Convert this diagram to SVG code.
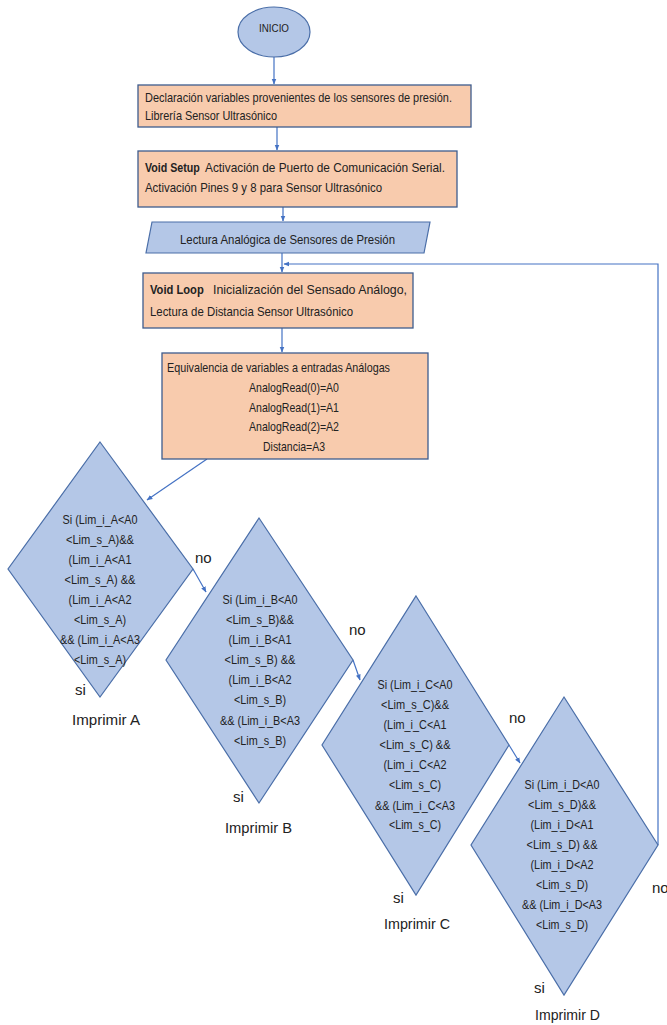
<svg xmlns="http://www.w3.org/2000/svg" width="667" height="1025" viewBox="0 0 667 1025">
<style>
text{font-family:"Liberation Sans",Arial,sans-serif;fill:#222;}
.t{font-size:13px;}
.b{font-weight:bold;}
.d{font-size:12.5px;text-anchor:middle;}
.l{font-size:15px;}
.box{fill:#F8CBAD;stroke:#3E5C8E;stroke-width:1.3;}
.blue{fill:#B4C7E7;stroke:#4A6EA8;stroke-width:1.2;}
.c{fill:none;stroke:#4472C4;stroke-width:1.2;}
</style>
<defs>
<marker id="ah" viewBox="0 0 10 10" refX="9" refY="5" markerWidth="6" markerHeight="6" orient="auto" markerUnits="userSpaceOnUse">
<path d="M0,1 L10,5 L0,9 Z" fill="#4472C4"/>
</marker>
</defs>
<rect width="667" height="1025" fill="#fff"/>

<g id="connectors">
<line class="c" x1="274" y1="57" x2="274" y2="84" marker-end="url(#ah)"/>
<line class="c" x1="277" y1="127" x2="277" y2="150" marker-end="url(#ah)"/>
<line class="c" x1="283" y1="207" x2="283" y2="221" marker-end="url(#ah)"/>
<line class="c" x1="282" y1="253" x2="282" y2="272" marker-end="url(#ah)"/>
<line class="c" x1="282" y1="328" x2="282" y2="352" marker-end="url(#ah)"/>
<line class="c" x1="207" y1="459" x2="147" y2="500" marker-end="url(#ah)"/>
<line class="c" x1="193" y1="569" x2="206" y2="592" marker-end="url(#ah)"/>
<line class="c" x1="353" y1="660" x2="360" y2="680" marker-end="url(#ah)"/>
<line class="c" x1="509" y1="745" x2="520" y2="763" marker-end="url(#ah)"/>
<polyline class="c" points="658,845 658,264 284,264" marker-end="url(#ah)"/>
</g>

<g id="inicio">
<ellipse class="blue" cx="274" cy="32" rx="36" ry="25"/>
<text x="259" y="32" style="font-size:11px" textLength="30" lengthAdjust="spacingAndGlyphs">INICIO</text>
</g>

<g id="declaracion">
<rect class="box" x="138" y="85" width="333" height="42"/>
<text class="t" x="145" y="102" textLength="307" lengthAdjust="spacingAndGlyphs">Declaración variables provenientes de los sensores de presión.</text>
<text class="t" x="145" y="120" textLength="132" lengthAdjust="spacingAndGlyphs">Librería Sensor Ultrasónico</text>
</g>

<g id="setup">
<rect class="box" x="138" y="151" width="319" height="56"/>
<text class="t b" transform="translate(145,172) scale(0.82,1)">Void Setup</text>
<text class="t" x="205" y="172" textLength="240" lengthAdjust="spacingAndGlyphs">Activación de Puerto de Comunicación Serial.</text>
<text class="t" x="145" y="192" textLength="237" lengthAdjust="spacingAndGlyphs">Activación Pines 9 y 8 para Sensor Ultrasónico</text>
</g>

<g id="lectura">
<polygon class="blue" points="152,222 430,222 424,253 146,253"/>
<text class="t" x="180" y="244" textLength="215" lengthAdjust="spacingAndGlyphs">Lectura Analógica de Sensores de Presión</text>
</g>

<g id="loop">
<rect class="box" x="143" y="273" width="270" height="55"/>
<text class="t b" transform="translate(150,294) scale(0.86,1)">Void Loop</text>
<text class="t" x="213" y="294" textLength="194" lengthAdjust="spacingAndGlyphs">Inicialización del Sensado Análogo,</text>
<text class="t" x="150" y="316" textLength="203" lengthAdjust="spacingAndGlyphs">Lectura de Distancia Sensor Ultrasónico</text>
</g>

<g id="equivalencia">
<rect class="box" x="162" y="353" width="266" height="106"/>
<text class="t" x="167" y="372" textLength="223" lengthAdjust="spacingAndGlyphs">Equivalencia de variables a entradas Análogas</text>
<text class="t" x="249" y="392" textLength="90" lengthAdjust="spacingAndGlyphs">AnalogRead(0)=A0</text>
<text class="t" x="249" y="412" textLength="90" lengthAdjust="spacingAndGlyphs">AnalogRead(1)=A1</text>
<text class="t" x="249" y="431" textLength="90" lengthAdjust="spacingAndGlyphs">AnalogRead(2)=A2</text>
<text class="t" x="263" y="451" textLength="62" lengthAdjust="spacingAndGlyphs">Distancia=A3</text>
</g>

<g id="decisionA">
<polygon class="blue" points="100,442 193,569 100,697 8,569"/>
<text class="d" x="100" y="524" textLength="75" lengthAdjust="spacingAndGlyphs">Si (Lim_i_A&lt;A0</text>
<text class="d" x="100" y="544" textLength="68" lengthAdjust="spacingAndGlyphs">&lt;Lim_s_A)&amp;&amp;</text>
<text class="d" x="100" y="564" textLength="63" lengthAdjust="spacingAndGlyphs">(Lim_i_A&lt;A1</text>
<text class="d" x="100" y="584" textLength="71" lengthAdjust="spacingAndGlyphs">&lt;Lim_s_A) &amp;&amp;</text>
<text class="d" x="100" y="604" textLength="63" lengthAdjust="spacingAndGlyphs">(Lim_i_A&lt;A2</text>
<text class="d" x="100" y="624" textLength="52" lengthAdjust="spacingAndGlyphs">&lt;Lim_s_A)</text>
<text class="d" x="100" y="644" textLength="80" lengthAdjust="spacingAndGlyphs">&amp;&amp; (Lim_i_A&lt;A3</text>
<text class="d" x="100" y="664" textLength="52" lengthAdjust="spacingAndGlyphs">&lt;Lim_s_A)</text>
<text class="l" x="75" y="695">si</text>
<text class="l" x="72" y="725" textLength="68" lengthAdjust="spacingAndGlyphs">Imprimir A</text>
<text class="l" x="195" y="563">no</text>
</g>

<g id="decisionB">
<polygon class="blue" points="259,518 353,660 259,803 166,660"/>
<text class="d" x="260" y="604" textLength="75" lengthAdjust="spacingAndGlyphs">Si (Lim_i_B&lt;A0</text>
<text class="d" x="260" y="624" textLength="68" lengthAdjust="spacingAndGlyphs">&lt;Lim_s_B)&amp;&amp;</text>
<text class="d" x="260" y="644" textLength="63" lengthAdjust="spacingAndGlyphs">(Lim_i_B&lt;A1</text>
<text class="d" x="260" y="664" textLength="71" lengthAdjust="spacingAndGlyphs">&lt;Lim_s_B) &amp;&amp;</text>
<text class="d" x="260" y="684" textLength="63" lengthAdjust="spacingAndGlyphs">(Lim_i_B&lt;A2</text>
<text class="d" x="260" y="704" textLength="52" lengthAdjust="spacingAndGlyphs">&lt;Lim_s_B)</text>
<text class="d" x="260" y="725" textLength="80" lengthAdjust="spacingAndGlyphs">&amp;&amp; (Lim_i_B&lt;A3</text>
<text class="d" x="260" y="745" textLength="52" lengthAdjust="spacingAndGlyphs">&lt;Lim_s_B)</text>
<text class="l" x="233" y="802">si</text>
<text class="l" x="225" y="833" textLength="67" lengthAdjust="spacingAndGlyphs">Imprimir B</text>
<text class="l" x="349" y="635">no</text>
</g>

<g id="decisionC">
<polygon class="blue" points="416,596 509,745 416,895 322,745"/>
<text class="d" x="415" y="689" textLength="75" lengthAdjust="spacingAndGlyphs">Si (Lim_i_C&lt;A0</text>
<text class="d" x="415" y="709" textLength="68" lengthAdjust="spacingAndGlyphs">&lt;Lim_s_C)&amp;&amp;</text>
<text class="d" x="415" y="729" textLength="63" lengthAdjust="spacingAndGlyphs">(Lim_i_C&lt;A1</text>
<text class="d" x="415" y="749" textLength="71" lengthAdjust="spacingAndGlyphs">&lt;Lim_s_C) &amp;&amp;</text>
<text class="d" x="415" y="769" textLength="63" lengthAdjust="spacingAndGlyphs">(Lim_i_C&lt;A2</text>
<text class="d" x="415" y="789" textLength="52" lengthAdjust="spacingAndGlyphs">&lt;Lim_s_C)</text>
<text class="d" x="415" y="810" textLength="80" lengthAdjust="spacingAndGlyphs">&amp;&amp; (Lim_i_C&lt;A3</text>
<text class="d" x="415" y="829" textLength="52" lengthAdjust="spacingAndGlyphs">&lt;Lim_s_C)</text>
<text class="l" x="393" y="903">si</text>
<text class="l" x="384" y="929" textLength="66" lengthAdjust="spacingAndGlyphs">Imprimir C</text>
<text class="l" x="509" y="723">no</text>
</g>

<g id="decisionD">
<polygon class="blue" points="564,697 658,845 564,995 471,845"/>
<text class="d" x="562" y="789" textLength="75" lengthAdjust="spacingAndGlyphs">Si (Lim_i_D&lt;A0</text>
<text class="d" x="562" y="809" textLength="68" lengthAdjust="spacingAndGlyphs">&lt;Lim_s_D)&amp;&amp;</text>
<text class="d" x="562" y="829" textLength="63" lengthAdjust="spacingAndGlyphs">(Lim_i_D&lt;A1</text>
<text class="d" x="562" y="849" textLength="71" lengthAdjust="spacingAndGlyphs">&lt;Lim_s_D) &amp;&amp;</text>
<text class="d" x="562" y="869" textLength="63" lengthAdjust="spacingAndGlyphs">(Lim_i_D&lt;A2</text>
<text class="d" x="562" y="889" textLength="52" lengthAdjust="spacingAndGlyphs">&lt;Lim_s_D)</text>
<text class="d" x="562" y="909" textLength="80" lengthAdjust="spacingAndGlyphs">&amp;&amp; (Lim_i_D&lt;A3</text>
<text class="d" x="562" y="929" textLength="52" lengthAdjust="spacingAndGlyphs">&lt;Lim_s_D)</text>
<text class="l" x="534" y="993">si</text>
<text class="l" x="535" y="1020" textLength="65" lengthAdjust="spacingAndGlyphs">Imprimir D</text>
<text class="l" x="652" y="893">no</text>
</g>
</svg>
